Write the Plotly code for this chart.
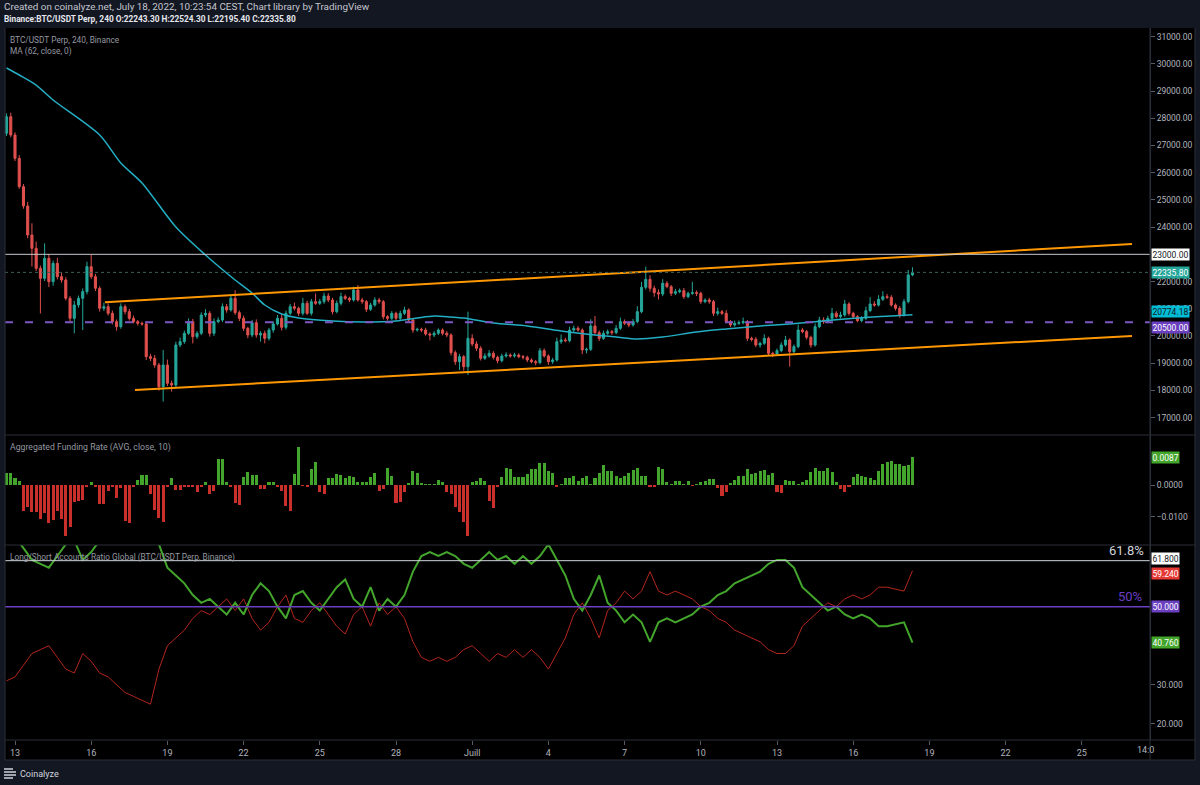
import pandas as pd
import plotly.graph_objects as go
from plotly.subplots import make_subplots

# ---------------- DATA ----------------
closes = [
    28060, 27386, 26529, 25487, 24777, 23711, 23220, 22485, 22118, 22853,
    21995, 22669, 22179, 22056, 21383, 20647, 21137, 21383, 21628, 22546,
    22179, 21750, 21015, 21076, 20831, 20525, 20341, 21076, 20892, 20647,
    20525, 20464, 20439, 19238, 19177, 18932, 18135, 18932, 18258, 18197,
    19667, 19790, 20096, 20525, 19973, 20096, 20770, 20831, 20096, 20525,
    20586, 21076, 20954, 21383, 20855, 20647, 20280, 20035, 20488, 20035,
    20096, 19912, 20218, 20439, 20647, 20316, 20831, 21076, 21015, 20831,
    21199, 20831, 21260, 21199, 21260, 21468, 21321, 20892, 21199, 21444,
    21382, 21321, 21689, 21321, 21260, 20978, 21137, 21321, 21260, 20708,
    20647, 20831, 20647, 20831, 20954, 20586, 20218, 20243, 20218, 20071,
    20035, 20096, 20218, 20096, 20035, 19385, 19054, 19238, 18870, 19912,
    19704, 19544, 19177, 19263, 19361, 19214, 19091, 19263, 19299, 19263,
    19299, 19238, 19214, 19115, 19054, 19018, 19459, 19263, 19054, 19115,
    19789, 19851, 19826, 20218, 20280, 20218, 19483, 19508, 20365, 20120,
    19912, 20096, 20157, 20120, 20280, 20525, 20464, 20402, 20525, 20892,
    21787, 22081, 21750, 21591, 21542, 21934, 21811, 21566, 21627, 21664,
    21444, 21566, 21591, 21566, 21260, 21321, 21260, 20831, 20892, 20831,
    20525, 20402, 20464, 20488, 20525, 19912, 19875, 19667, 19728, 19912,
    19361, 19336, 19459, 19667, 19851, 19422, 19606, 20218, 20157, 19949,
    19667, 20341, 20586, 20525, 20647, 20831, 20708, 20770, 21174, 20831,
    20708, 20562, 20647, 20929, 21174, 21137, 21346, 21444, 21419, 21137,
    21015, 20770, 21260, 22243.3, 22335.8,
]
first_open = 27448
wick_up = [
    120, 150, 100, 120, 100, 150, 430, 250, 100, 550,
    150, 100, 200, 150, 100, 80, 150, 100, 120, 180,
    430, 100, 80, 150, 120, 100, 80, 120, 80, 100,
    100, 60, 60, 80, 100, 120, 80, 550, 200, 100,
    120, 150, 100, 120, 100, 80, 100, 150, 80, 120,
    100, 120, 100, 120, 300, 80, 100, 60, 100, 120,
    80, 100, 80, 100, 120, 150, 100, 100, 150, 60,
    200, 100, 100, 300, 100, 120, 100, 80, 100, 150,
    80, 60, 120, 180, 80, 60, 80, 100, 80, 60,
    60, 80, 60, 100, 120, 60, 80, 60, 60, 80,
    60, 80, 60, 60, 80, 60, 80, 100, 60, 980,
    150, 100, 80, 100, 120, 80, 60, 80, 100, 60,
    80, 60, 60, 60, 60, 60, 100, 80, 60, 80,
    150, 200, 80, 120, 100, 80, 60, 60, 250, 370,
    80, 100, 80, 60, 120, 150, 80, 60, 100, 200,
    200, 465, 150, 100, 120, 150, 80, 60, 100, 80,
    100, 60, 400, 80, 60, 60, 80, 60, 150, 60,
    120, 60, 100, 80, 150, 60, 60, 80, 60, 150,
    60, 60, 80, 100, 150, 60, 80, 200, 80, 60,
    60, 120, 120, 100, 100, 200, 80, 120, 150, 60,
    60, 60, 80, 150, 250, 100, 150, 200, 100, 80,
    60, 80, 100, 180, 188.5,
]
wick_dn = [
    100, 80, 100, 80, 100, 120, 670, 100, 1290, 100,
    200, 150, 100, 100, 80, 150, 550, 100, 1165, 100,
    80, 100, 120, 100, 80, 100, 150, 80, 100, 80,
    60, 80, 60, 120, 100, 100, 150, 550, 100, 245,
    100, 80, 80, 60, 250, 80, 60, 80, 120, 100,
    60, 80, 100, 60, 80, 100, 100, 120, 80, 100,
    245, 185, 80, 100, 60, 120, 80, 60, 80, 100,
    80, 60, 80, 60, 60, 80, 80, 100, 60, 80,
    60, 80, 60, 60, 80, 100, 60, 60, 80, 100,
    80, 60, 80, 60, 60, 80, 100, 60, 80, 60,
    200, 80, 60, 80, 80, 100, 120, 306, 150, 306,
    80, 100, 80, 60, 60, 80, 100, 60, 60, 60,
    60, 60, 80, 80, 60, 100, 60, 60, 120, 80,
    60, 80, 60, 60, 80, 60, 150, 122, 60, 80,
    100, 60, 60, 80, 60, 60, 60, 80, 60, 60,
    60, 80, 120, 150, 200, 80, 60, 100, 60, 60,
    80, 60, 60, 100, 80, 60, 80, 100, 80, 60,
    60, 80, 60, 60, 60, 100, 80, 80, 100, 60,
    80, 120, 60, 60, 60, 550, 60, 60, 60, 80,
    100, 60, 60, 80, 60, 60, 60, 60, 60, 80,
    80, 60, 60, 60, 60, 60, 60, 60, 60, 60,
    80, 100, 60, 60, 47.9,
]
funding = [
    0.0039, 0.0039, 0.0021, 0.0014, -0.0082, -0.0068, -0.0084, -0.0084, -0.0108, -0.0089,
    -0.0119, -0.0110, -0.0082, -0.0108, -0.0161, -0.0131, -0.0053, -0.0049, -0.0047, -0.0005,
    0.0011, -0.0005, -0.0060, -0.0060, -0.0018, -0.0005, -0.0042, -0.0011, -0.0113, -0.0121,
    -0.0007, 0.0016, 0.0032, 0.0032, -0.0029, -0.0079, -0.0105, -0.0116, -0.0005, 0.0023,
    -0.0016, -0.0016, -0.0007, -0.0007, -0.0005, -0.0021, -0.0005, 0.0008, -0.0028, -0.0018,
    0.0081, 0.0082, 0.0011, -0.0005, -0.0056, -0.0063, 0.0026, 0.0041, 0.0032, 0.0032,
    -0.0013, -0.0013, 0.0008, 0.0008, -0.0007, -0.0019, -0.0066, -0.0081, 0.0035, 0.0121,
    -0.0003, -0.0007, 0.0049, 0.0072, -0.0021, -0.0028, 0.0021, 0.0021, 0.0034, 0.0032,
    0.0021, 0.0029, 0.0026, 0.0011, 0.0011, 0.0008, 0.0026, 0.0037, -0.0019, -0.0014,
    0.0053, 0.0029, -0.0056, -0.0053, -0.0021, 0.0005, 0.0044, 0.0037, 0.0005, 0.0003,
    0.0003, 0.0003, 0.0016, 0.0011, -0.0021, -0.0029, -0.0068, -0.0084, -0.0116, -0.0161,
    0.0008, 0.0014, 0.0021, 0.0014, -0.0049, -0.0072,
    -0.0007, 0.0026, 0.0055, 0.0049, 0.0026, 0.0026, 0.0026, 0.0035, 0.0049, 0.0050,
    0.0068, 0.0070, 0.0044, 0.0037, -0.0005, 0.0003, 0.0023, 0.0021, 0.0029, 0.0014,
    0.0023, 0.0028, 0.0003, 0.0023, 0.0039, 0.0063, 0.0045, 0.0044, 0.0028, 0.0023,
    0.0028, 0.0037, 0.0047, 0.0053, 0.0029, 0.0029, -0.0007, -0.0007, 0.0056, 0.0049,
    0.0011, 0.0001, 0.0013, 0.0013, 0.0003, 0.0013, -0.0002, 0.0003, 0.0008, 0.0013,
    0.0018, 0.0018, -0.0011, -0.0034, -0.0023, 0.0005, 0.0016, 0.0029, 0.0029, 0.0049,
    0.0035, 0.0039, 0.0045, 0.0047, 0.0032, 0.0039, -0.0021, -0.0026, 0.0016, 0.0013,
    0.0014, 0.0003, 0.0011, 0.0016, 0.0042, 0.0055, 0.0045, 0.0044, 0.0055, 0.0040,
    0.0011, -0.0014, -0.0021, -0.0005, 0.0026, 0.0035, 0.0029, 0.0026, 0.0021, 0.0016,
    0.0044, 0.0066, 0.0072, 0.0076, 0.0066, 0.0066, 0.0061, 0.0063, 0.0087,
]
# long accounts % (every 2nd candle, last value = last candle); short % = 100 - long
ls_long = [
    69, 68, 65, 62, 61, 60, 63, 66, 67, 62, 64, 67, 68, 70, 72, 73, 74, 75, 66, 60,
    58, 56, 53, 51, 52, 50, 48, 51, 48, 53,
    56, 54, 50, 47, 53, 54, 51, 49, 52, 55,
    57, 52, 50, 55, 49, 52, 50, 53, 59, 63,
    64, 63, 64, 63, 61, 60, 62, 64, 62, 63,
    61, 63, 61, 63, 66, 62, 58, 52, 49, 53,
    58, 51, 49, 46, 48, 46, 41, 46, 47, 46,
    47, 48, 50, 51, 53, 54, 56, 57, 58, 59,
    61, 62, 62, 60, 55, 53, 51, 49, 50, 48,
    47, 48, 47, 45, 45, 45.5, 46,
    40.76,
]
ma_idx = [0, 3, 7, 11, 22, 27, 32, 40, 47, 54, 58, 61, 65, 69, 77, 84, 92, 97, 101, 105,
          108, 115, 123, 131, 139, 144, 149, 155, 163, 170, 178, 185, 193, 201, 209, 214]
ma_val = [29849, 29592, 29224, 28673, 27386, 26357, 25622, 24004, 22975, 22056, 21578,
          21137, 20806, 20659, 20549, 20512, 20549, 20659, 20733, 20696, 20659, 20475,
          20365, 20181, 20034, 19960, 19887, 19960, 20144, 20255, 20365, 20438, 20549,
          20659, 20733, 20774.18]
upper_t = ['2022-06-16 13:00', '2022-07-26 23:25']
upper_p = [21236, 23380]
lower_t = ['2022-06-17 17:20', '2022-07-26 23:25']
lower_p = [18013, 20000]
level_white = 23000
level_purple = 20500
last_price = 22335.8
last_ma = 20774.18
ls_top_level = 61.8
ls_mid_level = 50
# visible axis ticks (values hidden under price tags are left out)
price_ticks = [17000, 18000, 19000, 20000, 21000, 22000, 24000, 25000, 26000, 27000,
               28000, 29000, 30000, 31000]
fund_ticks = [-0.01, 0.0]
ls_ticks = [20, 30]
x_tick_dates = ['2022-06-13', '2022-06-16', '2022-06-19', '2022-06-22', '2022-06-25',
                '2022-06-28', '2022-07-01', '2022-07-04', '2022-07-07', '2022-07-10',
                '2022-07-13', '2022-07-16', '2022-07-19', '2022-07-22', '2022-07-25']
x_tick_text = ['13', '16', '19', '22', '25', '28', 'Juill', '4', '7', '10', '13', '16',
               '19', '22', '25']

# ---------------- DERIVED ----------------
n = len(closes)
t0 = pd.Timestamp('2022-06-12 16:00')
times = [t0 + pd.Timedelta(hours=4 * i) for i in range(n)]
opens = [first_open] + closes[:-1]
highs = [max(o, c) + w for o, c, w in zip(opens, closes, wick_up)]
lows = [min(o, c) - w for o, c, w in zip(opens, closes, wick_dn)]
fund_t = times[n - len(funding):]
ls_i = list(range(0, 2 * (len(ls_long) - 1), 2)) + [n - 1]
ls_t = [times[i] for i in ls_i]
ls_short = [100 - v for v in ls_long]
ma_t = [times[i] for i in ma_idx]

# ---------------- STYLE ----------------
BG = '#131722'
TEAL = '#26a69a'
RED = '#e0504e'
GREEN = '#43a52b'
BRED = '#c9302c'
PURPLE = '#6a3fc0'
AX = '#b2b5be'
BORDER = '#2a2e39'
FONT = 'Roboto'

fig = make_subplots(rows=3, cols=1, shared_xaxes=True, vertical_spacing=0,
                    row_heights=[407, 110, 195])

fig.add_trace(go.Candlestick(
    x=times, open=opens, high=highs, low=lows, close=closes,
    increasing=dict(line=dict(color=TEAL, width=1), fillcolor=TEAL),
    decreasing=dict(line=dict(color=RED, width=1), fillcolor=RED),
    whiskerwidth=0, hoverinfo='skip'), row=1, col=1)

fig.add_trace(go.Scatter(x=ma_t, y=ma_val, mode='lines',
                         line=dict(color='#23aec4', width=1.5, shape='spline', smoothing=0.8),
                         hoverinfo='skip'), row=1, col=1)
fig.add_trace(go.Scatter(x=upper_t, y=upper_p, mode='lines',
                         line=dict(color='#ff9800', width=2), hoverinfo='skip'), row=1, col=1)
fig.add_trace(go.Scatter(x=lower_t, y=lower_p, mode='lines',
                         line=dict(color='#ff9800', width=2), hoverinfo='skip'), row=1, col=1)

fig.add_trace(go.Bar(x=fund_t, y=funding,
                     marker=dict(color=[GREEN if v >= 0 else BRED for v in funding], line=dict(width=0)),
                     width=4 * 3600 * 1000 * 0.72, hoverinfo='skip'), row=2, col=1)

fig.add_trace(go.Scatter(x=ls_t, y=ls_short, mode='lines',
                         line=dict(color='#b3261e', width=1), hoverinfo='skip'), row=3, col=1)
fig.add_trace(go.Scatter(x=ls_t, y=ls_long, mode='lines',
                         line=dict(color=GREEN, width=2), hoverinfo='skip'), row=3, col=1)

x_range = ['2022-06-12 14:33', '2022-07-27 16:26']
for r in (1, 2, 3):
    fig.update_xaxes(range=x_range, showgrid=False, zeroline=False, row=r, col=1,
                     rangeslider=dict(visible=False))
fig.update_xaxes(showticklabels=False, ticks='', row=1, col=1)
fig.update_xaxes(showticklabels=False, ticks='', row=2, col=1)
fig.update_xaxes(tickvals=x_tick_dates, ticktext=x_tick_text, ticks='outside', ticklen=4,
                 tickcolor='#555a66', tickfont=dict(size=9, color=AX, family=FONT),
                 row=3, col=1)

yax = dict(side='right', showgrid=False, zeroline=False, ticks='outside', ticklen=4,
           tickcolor='#555a66', tickfont=dict(size=8.5, color=AX, family=FONT),
           showline=True, linecolor=BORDER, linewidth=1)
fig.update_yaxes(range=[16358, 31320], tickvals=price_ticks,
                 ticktext=[f'{v:.2f}' for v in price_ticks], row=1, col=1, **yax)
fig.update_yaxes(range=[-0.018927, 0.015773], tickvals=fund_ticks,
                 ticktext=['\u22120.0100', '0.0000'], row=2, col=1, **yax)
fig.update_yaxes(range=[15.82, 65.82], tickvals=ls_ticks,
                 ticktext=[f'{v:.3f}' for v in ls_ticks], row=3, col=1, **yax)


def px(X):
    return (X - 5) / 1145


def py(Y):
    return (740 - Y) / 712


shapes = [
    dict(type='rect', xref='paper', yref='paper', x0=px(5), x1=px(1195), y0=py(760), y1=py(28),
         fillcolor='#000000', line=dict(width=0), layer='below'),
    dict(type='line', xref='x domain', yref='y', x0=0, x1=1, y0=level_white, y1=level_white,
         line=dict(color='#c8cad0', width=1)),
    dict(type='line', xref='x domain', yref='y', x0=0, x1=1, y0=last_price, y1=last_price,
         line=dict(color='#3c5f5b', width=1, dash='dot')),
    dict(type='line', xref='x domain', yref='y', x0=0, x1=1, y0=level_purple, y1=level_purple,
         line=dict(color='#7e57c2', width=2, dash='8px,12px')),
    dict(type='line', xref='x3 domain', yref='y3', x0=0, x1=1, y0=ls_top_level, y1=ls_top_level,
         line=dict(color='#d1d4dc', width=1)),
    dict(type='line', xref='x3 domain', yref='y3', x0=0, x1=1, y0=ls_mid_level, y1=ls_mid_level,
         line=dict(color=PURPLE, width=1.5)),
]
for Y in (435, 545, 740, 760):
    shapes.append(dict(type='line', xref='paper', yref='paper', x0=px(5), x1=px(1195),
                       y0=py(Y), y1=py(Y), line=dict(color=BORDER, width=1)))
for X in (5, 1150, 1195):
    shapes.append(dict(type='line', xref='paper', yref='paper', x0=px(X), x1=px(X),
                       y0=py(760), y1=py(28), line=dict(color=BORDER, width=1)))
# footer logo bars
for Y, L in ((769, 9), (772, 12), (775, 12), (778, 9)):
    shapes.append(dict(type='line', xref='paper', yref='paper', x0=px(4), x1=px(4 + L),
                       y0=py(Y), y1=py(Y), line=dict(color='#d1d4dc', width=1.5)))
fig.update_layout(shapes=shapes)


def tag(text, y, yref, bg, fg, yshift=0):
    fig.add_annotation(x=1, xref='paper', y=y, yref=yref, text=text, showarrow=False,
                       xanchor='left', yanchor='middle', xshift=1, yshift=yshift,
                       bgcolor=bg, borderpad=0.5, font=dict(size=8.5, color=fg, family=FONT))


tag(f'{level_white:.2f}', level_white, 'y', '#ffffff', '#131722')
tag(f'{last_price:.2f}', last_price, 'y', TEAL, '#ffffff')
tag(f'{last_ma:.2f}', last_ma, 'y', '#00bcd4', '#131722', yshift=3)
tag(f'{level_purple:.2f}', level_purple, 'y', PURPLE, '#ffffff', yshift=-5)
tag(f'{funding[-1]:.4f}', funding[-1], 'y2', GREEN, '#ffffff')
tag(f'{ls_top_level:.3f}', ls_top_level, 'y3', '#ffffff', '#131722', yshift=2)
tag(f'{ls_short[-1]:.3f}', ls_short[-1], 'y3', '#e53935', '#ffffff', yshift=-3)
tag(f'{ls_mid_level:.3f}', ls_mid_level, 'y3', PURPLE, '#ffffff')
tag(f'{ls_long[-1]:.3f}', ls_long[-1], 'y3', GREEN, '#ffffff')


def txt(text, X, Y, size=8.7, color='#9598a1', anchor='left'):
    fig.add_annotation(x=px(X), xref='paper', y=py(Y), yref='paper', text=text,
                       showarrow=False, xanchor=anchor, yanchor='middle',
                       font=dict(size=size, color=color, family=FONT))


txt('Created on coinalyze.net, July 18, 2022, 10:23:54 CEST, Chart library by TradingView',
    2, 7, 9.9, '#c3c6ce')
txt('<b>Binance:BTC/USDT Perp, 240 O:22243.30 H:22524.30 L:22195.40 C:22335.80</b>',
    2, 19, 8.3, '#e6e8ee')
txt('BTC/USDT Perp, 240, Binance', 8, 40, 8.3)
txt('MA (62, close, 0)', 8, 52, 8.3)
txt('Aggregated Funding Rate (AVG, close, 10)', 8, 447, 8.7)
txt('Long/Short Accounts Ratio Global (BTC/USDT Perp, Binance)', 8, 557, 8.3)
txt('Coinalyze', 18, 774, 9, '#d1d4dc')
txt('14:0', 1135, 750, 9, AX)

fig.add_annotation(x=1, xref='paper', y=ls_top_level, yref='y3', text='61.8%', showarrow=False,
                   xanchor='right', yanchor='bottom', xshift=-4, yshift=1,
                   font=dict(size=13, color='#d1d4dc', family=FONT))
fig.add_annotation(x=1, xref='paper', y=ls_mid_level, yref='y3', text='50%', showarrow=False,
                   xanchor='right', yanchor='bottom', xshift=-6, yshift=1,
                   font=dict(size=13, color=PURPLE, family=FONT))

fig.update_layout(
    width=1200, height=785,
    margin=dict(l=5, r=50, t=28, b=45),
    paper_bgcolor=BG, plot_bgcolor='#000000',
    showlegend=False, hovermode=False, bargap=0,
    font=dict(family=FONT, color=AX),
)

fig.write_html('out.html')
